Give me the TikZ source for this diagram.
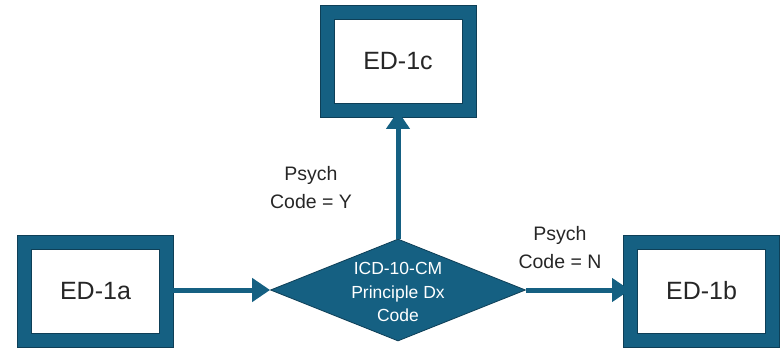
\documentclass[tikz,border=0pt]{standalone}
\usepackage{fontspec}
\setmainfont{Liberation Sans}
\usetikzlibrary{shapes.geometric,arrows.meta}
\definecolor{teal}{HTML}{156082}
\definecolor{tealdark}{HTML}{0E3F57}
\tikzset{
  edbox/.style={draw=tealdark, double=teal, double distance=13pt, line width=1pt, fill=white,
    minimum width=142pt, minimum height=98pt, inner sep=0pt,
    font=\fontsize{25}{30}\selectfont, text=black!85},
  decision/.style={diamond, draw=tealdark, line width=0.8pt, fill=teal, minimum width=255pt,
    minimum height=102pt, inner sep=0pt},
  dectext/.style={align=center, text=white, font=\fontsize{17.5}{23.5}\selectfont},
  lbl/.style={align=center, text=black!85, font=\fontsize{19.5}{28}\selectfont},
  flow/.style={draw=teal, line width=5pt, -{Triangle[length=18pt,width=23pt]}, shorten >=0pt}
}
\begin{document}
\begin{tikzpicture}[x=1pt,y=-1pt]
\useasboundingbox (0,0) rectangle (782,350);
\node[edbox] (a) at (95.5,291) {ED-1a};
\node[edbox] (c) at (398,61.5) {ED-1c};
\node[edbox] (b) at (701.5,291) {ED-1b};
\node[decision] (d) at (398,290) {};
\node[dectext] (dt) at (398,292) {ICD-10-CM\\Principle Dx\\Code};
\draw[flow] (a.east |- d.west) -- (d.west);
\draw[flow] (d.east) -- (d.east -| b.west);
\draw[flow] (d.north) -- (c.south);
\node[lbl] (ly) at (311,188) {Psych\\Code = Y};
\node[lbl] (ln) at (560,248) {Psych\\Code = N};
\end{tikzpicture}
\end{document}
